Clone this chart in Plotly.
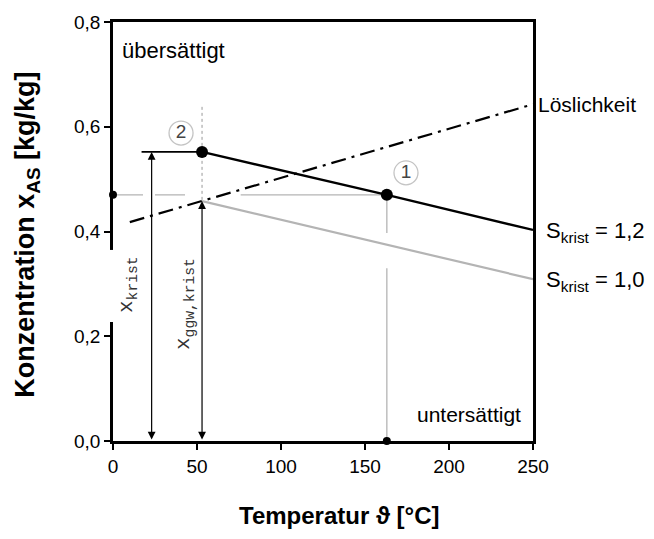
import plotly.graph_objects as go

# ---- data ----
s12_T = [53, 163, 250]            # S_krist = 1,2 line (temperature)
s12_x = [0.552, 0.470, 0.403]     # concentration
s10_T = [53, 250]                 # S_krist = 1,0 line
s10_x = [0.458, 0.309]
loes_T = [10, 250]                # Löslichkeit
loes_x = [0.418, 0.643]
p1 = (163, 0.470)                 # state 1
p2 = (53, 0.552)                  # state 2
x_krist_T = 23                    # arrow position for x_krist
ggw_x = 0.458                     # x_ggw,krist
tickvals_x = [0, 50, 100, 150, 200, 250]
tickvals_y = [0.0, 0.2, 0.4, 0.6, 0.8]

FONT = "Liberation Sans"
MONO = "Liberation Mono"
GRAY = "#b4b4b4"

fig = go.Figure()

# horizontal gray helper line at x(1)
fig.add_trace(go.Scatter(x=[0, 45], y=[p1[1], p1[1]], mode="lines",
                         line=dict(color=GRAY, width=1.3, dash="30px,12px"), hoverinfo="skip"))
fig.add_trace(go.Scatter(x=[76, p1[0]], y=[p1[1], p1[1]], mode="lines",
                         line=dict(color=GRAY, width=1.3), hoverinfo="skip"))
# vertical gray helper line at T(1), with gap at S=1.0 line
fig.add_trace(go.Scatter(x=[p1[0], p1[0], None, p1[0], p1[0]], y=[p1[1], 0.397, None, 0.330, 0],
                         mode="lines", line=dict(color=GRAY, width=1.3), hoverinfo="skip"))
# vertical dashed line at T(2)
fig.add_trace(go.Scatter(x=[p2[0], p2[0]], y=[0.638, ggw_x], mode="lines",
                         line=dict(color="#999999", width=1, dash="3px,3px"), hoverinfo="skip"))
# S_krist = 1,0
fig.add_trace(go.Scatter(x=s10_T, y=s10_x, mode="lines",
                         line=dict(color=GRAY, width=2.2), hoverinfo="skip"))
# Löslichkeit
fig.add_trace(go.Scatter(x=loes_T, y=loes_x, mode="lines",
                         line=dict(color="black", width=2.2, dash="15px,6px,3px,6px"), hoverinfo="skip"))
# S_krist = 1,2
fig.add_trace(go.Scatter(x=s12_T, y=s12_x, mode="lines",
                         line=dict(color="black", width=2.4), hoverinfo="skip"))
# short horizontal line for x_krist
fig.add_trace(go.Scatter(x=[17, p2[0]], y=[p2[1], p2[1]], mode="lines",
                         line=dict(color="black", width=1.6), hoverinfo="skip"))
# big dots
fig.add_trace(go.Scatter(x=[p2[0], p1[0]], y=[p2[1], p1[1]], mode="markers",
                         marker=dict(color="black", size=12), hoverinfo="skip", cliponaxis=False))
# small dots on axes
fig.add_trace(go.Scatter(x=[0, p1[0]], y=[p1[1], 0], mode="markers",
                         marker=dict(color="black", size=8), hoverinfo="skip", cliponaxis=False))
# circled numbers
fig.add_trace(go.Scatter(x=[40.5, 174.4], y=[0.588, 0.512], mode="markers+text",
                         text=["2", "1"], textposition="middle center",
                         textfont=dict(family=FONT, size=19, color="#444444"),
                         marker=dict(symbol="circle", size=24, color="white",
                                     line=dict(color="#c4c4c4", width=1.3)),
                         hoverinfo="skip", cliponaxis=False))

annotations = []
# double arrows
for xa, ytop in [(x_krist_T, p2[1]), (p2[0], ggw_x)]:
    annotations.append(dict(x=xa, y=ytop, ax=xa, ay=0, xref="x", yref="y", axref="x", ayref="y",
                            text="", showarrow=True, arrowside="end+start",
                            arrowhead=2, startarrowhead=2, arrowsize=1.3, startarrowsize=1.3,
                            arrowwidth=1.2, arrowcolor="black"))
# rotated labels
annotations.append(dict(x=9, y=0.298, text="x<sub>krist</sub>", textangle=-90, showarrow=False,
                        font=dict(family=MONO, size=21, color="#333333")))
annotations.append(dict(x=43, y=0.262, text="x<sub>ggw,krist</sub>", textangle=-90, showarrow=False,
                        font=dict(family=MONO, size=21, color="#333333")))
# region texts
annotations.append(dict(x=4, y=0.746, text="übersättigt", showarrow=False, xanchor="left",
                        font=dict(family=FONT, size=22, color="black")))
annotations.append(dict(x=244, y=0.050, text="untersättigt", showarrow=False, xanchor="right",
                        font=dict(family=FONT, size=21, color="black")))
# line labels (outside plot, paper x)
annotations.append(dict(x=1.008, y=0.643, xref="paper", yref="y", text="Löslichkeit", showarrow=False,
                        xanchor="left", font=dict(family=FONT, size=21, color="black")))
annotations.append(dict(x=1.026, y=0.399, xref="paper", yref="y", text="S<sub>krist</sub> = 1,2",
                        showarrow=False, xanchor="left", font=dict(family=FONT, size=22, color="black")))
annotations.append(dict(x=1.026, y=0.305, xref="paper", yref="y", text="S<sub>krist</sub> = 1,0",
                        showarrow=False, xanchor="left", font=dict(family=FONT, size=22, color="black")))
# axis titles
annotations.append(dict(x=0.538, y=-0.177, xref="paper", yref="paper", text="<b>Temperatur ϑ [°C]</b>",
                        showarrow=False, xanchor="center", yanchor="middle",
                        font=dict(family=FONT, size=24, color="black")))
annotations.append(dict(x=-0.205, y=0.492, xref="paper", yref="paper",
                        text="<b>Konzentration x<sub>AS</sub> [kg/kg]</b>", textangle=-90,
                        showarrow=False, xanchor="center", yanchor="middle",
                        font=dict(family=FONT, size=27, color="black")))

# white patch breaking the y-axis line behind the x_krist label
shapes = [dict(type="rect", xref="paper", yref="paper", x0=-0.012, x1=0.012, y0=0.284, y1=0.456,
               fillcolor="white", line=dict(width=0), layer="above")]

fig.update_layout(
    width=654, height=539,
    margin=dict(l=113, r=121, t=22, b=98),
    paper_bgcolor="white", plot_bgcolor="white",
    showlegend=False,
    separators=",.",
    font=dict(family=FONT, size=16, color="black"),
    annotations=annotations,
    shapes=shapes,
    xaxis=dict(range=[0, 250], tickvals=tickvals_x, showgrid=False, zeroline=False,
               showline=True, linecolor="black", linewidth=2.5, mirror=True,
               ticks="outside", ticklen=6, tickwidth=2, tickcolor="black",
               tickfont=dict(family=FONT, size=19)),
    yaxis=dict(range=[0, 0.8], tickvals=tickvals_y, tickformat=".1f", showgrid=False, zeroline=False,
               showline=True, linecolor="black", linewidth=2.5, mirror=True,
               ticks="outside", ticklen=6, tickwidth=2, tickcolor="black",
               tickfont=dict(family=FONT, size=19)),
)

fig.write_html("out.html")
